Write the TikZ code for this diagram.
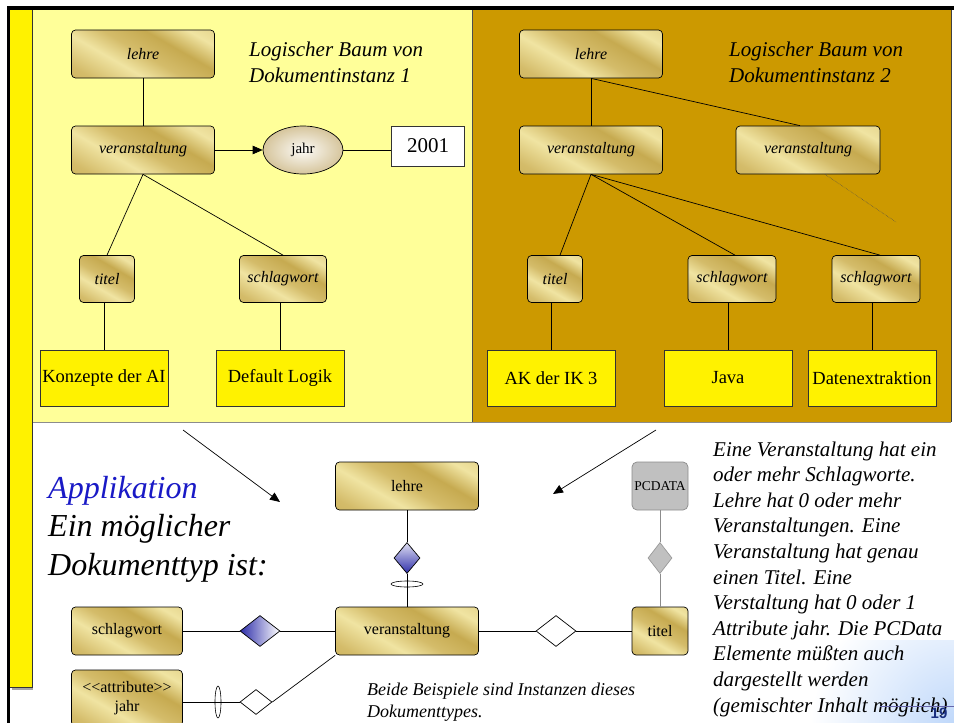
\documentclass[tikz,border=0pt]{standalone}
\usepackage{fontspec}
\setmainfont{Liberation Serif}
\newfontfamily\numfont{Liberation Sans}
\usetikzlibrary{arrows.meta,shapes.geometric}

\definecolor{paleyellow}{HTML}{FFFF99}
\definecolor{ochre}{HTML}{CC9900}
\definecolor{goldA}{HTML}{D4BC6A}
\definecolor{goldB}{HTML}{F0E4A2}
\definecolor{goldC}{HTML}{C6AA50}
\definecolor{diamblue}{HTML}{2E2EAA}
\definecolor{pcgrey}{HTML}{C0C0C0}
\definecolor{pagenum}{HTML}{1A2F80}
\definecolor{balltan}{HTML}{D6C59C}
\definecolor{sheenblue}{HTML}{BCD6FA}

\pgfdeclarehorizontalshading{goldsheen}{100bp}{color(0bp)=(goldC); color(22bp)=(goldA); color(38bp)=(goldB); color(50bp)=(goldA); color(63bp)=(goldC); color(76bp)=(goldB); color(100bp)=(goldA)}

\tikzset{
  x=1pt, y=-1pt,
  elem/.style={rectangle, rounded corners=4pt, draw=black, line width=0.7pt,
    shading=goldsheen, shading angle=60, inner sep=0pt},
  elemit/.style={elem, font=\fontsize{16}{18}\selectfont\itshape},
  elemup/.style={elem, font=\fontsize{16}{18}\selectfont},
  leaf/.style={rectangle, draw=black!80, line width=0.7pt, fill=yellow, inner sep=0pt,
    minimum width=128pt, minimum height=56pt, font=\fontsize{18.5}{20}\selectfont},
  link/.style={draw=black, line width=0.7pt},
  rhomb/.style={diamond, draw=black, line width=0.7pt, inner sep=0pt,
    minimum width=40pt, minimum height=31pt},
  ring/.style={ellipse, draw=black, line width=0.6pt, inner sep=0pt},
  prose/.style={align=left, anchor=base west, inner sep=0pt},
  headline/.style={prose, font=\fontsize{21}{26}\selectfont\itshape},
  tip/.style={-{Triangle[length=10pt,width=8.5pt]}}
}

\begin{document}
\begin{tikzpicture}
\useasboundingbox (0,0) rectangle (954,723);
\fill[white] (0,0) rectangle (954,723);

% panels
\fill[paleyellow] (32,9) rectangle (472,422);
\fill[ochre] (472,9) rectangle (951,422);
\draw[black!70, line width=0.8pt] (472,9) -- (472,422);
\draw[black!75, line width=1pt] (951,9) -- (951,422);
\draw[black!45, line width=1pt] (32,422.5) -- (951,422.5);

% corner sheen
\begin{scope}
  \clip (800,640) rectangle (954,723);
  \shade[inner color=sheenblue, outer color=white] (960,730) circle (150);
\end{scope}

% left strip and frame
\fill[black!35] (12,687) rectangle (33,690);
\fill[yellow] (10,9) rectangle (32,687);
\draw[black!80, line width=1pt] (32,9) -- (32,687) -- (10,687);
\fill[black] (7,6) rectangle (954,9.5);
\fill[black] (7,6) rectangle (9.5,723);

% ---------- tree 1 ----------
\node[headline] (h1) at (249,82) {Logischer Baum von\\Dokumentinstanz 1};
\node[elemit, minimum width=143pt, minimum height=48pt] (lA) at (143,54) {lehre};
\node[elemit, minimum width=143pt, minimum height=48pt] (vA) at (143,150) {veranstaltung};
\node[ellipse, draw=black, line width=0.7pt, inner color=white!92!balltan, outer color=balltan,
      minimum width=80pt, minimum height=48pt, inner sep=0pt,
      font=\fontsize{15}{17}\selectfont] (jA) at (303,150) {jahr};
\node[rectangle, draw=black!80, line width=0.7pt, fill=white, minimum width=73pt,
      minimum height=40pt, inner sep=0pt, font=\fontsize{21}{23}\selectfont] (yA) at (428,146) {2001};
\node[elemit, minimum width=55pt, minimum height=47pt] (tA) at (107,279) {titel};
\node[elemit, minimum width=87pt, minimum height=47pt] (sA) at (283,279) {schlagwort};
\node[leaf] (kA) at (104,378) {Konzepte der AI};
\node[leaf] (dA) at (280,378) {Default Logik};

\draw[link] (lA) -- (vA);
\draw[link, tip] (vA.east) -- (jA.west);
\draw[link] (jA.east) -- (yA.west |- jA.east);
\draw[link] (vA.south) -- (tA.north);
\draw[link] (vA.south) -- (sA.north);
\draw[link] (tA.south -| kA.north) -- (kA.north);
\draw[link] (sA.south -| dA.north) -- (dA.north);

% ---------- tree 2 ----------
\node[headline] (h2) at (729,82) {Logischer Baum von\\Dokumentinstanz 2};
\node[elemit, minimum width=143pt, minimum height=48pt] (lB) at (591,54) {lehre};
\node[elemit, minimum width=143pt, minimum height=48pt] (vB) at (591,150) {veranstaltung};
\node[elemit, minimum width=144pt, minimum height=48pt] (vC) at (808,150) {veranstaltung};
\node[elemit, minimum width=55pt, minimum height=47pt] (tB) at (555,279) {titel};
\node[elemit, minimum width=88pt, minimum height=47pt] (sB) at (732,279) {schlagwort};
\node[elemit, minimum width=88pt, minimum height=47pt] (sC) at (876,279) {schlagwort};
\node[leaf] (kB) at (551,378) {AK der IK 3};
\node[leaf] (dB) at (728,378) {Java};
\node[leaf] (eB) at (872,378) {Datenextraktion};
\coordinate (vCend) at (896,222);

\draw[link] (lB) -- (vB);
\draw[link] (lB.south) -- ([xshift=-8pt]vC.north);
\draw[link] (vB.south) -- ([xshift=5pt]tB.north);
\draw[link] (vB.south) -- ([xshift=3pt]sB.north);
\draw[link] (vB.south) -- ([xshift=4pt]sC.north);
\draw[black!70, line width=0.5pt, densely dotted] ([xshift=17pt]vC.south) -- (vCend);
\draw[link] (tB.south -| kB.north) -- (kB.north);
\draw[link] (sB.south -| dB.north) -- (dB.north);
\draw[link] (sC.south -| eB.north) -- (eB.north);

% ---------- document type ----------
\coordinate (a1s) at (183,430);
\coordinate (a1e) at (280,502);
\coordinate (a2s) at (656,430);
\coordinate (a2e) at (553,494);
\draw[link, tip] (a1s) -- (a1e);
\draw[link, tip] (a2s) -- (a2e);

\node[prose, font=\fontsize{32}{38.5}\selectfont\itshape] (ttl) at (48,575)
  {\textcolor{blue!75!black!90}{Applikation}\\Ein möglicher\\Dokumenttyp ist:};

\node[elemup, minimum width=143pt, minimum height=48pt] (lD) at (407,486) {lehre};
\node[elemup, minimum width=143pt, minimum height=48pt] (vD) at (407,631) {veranstaltung};
\node[elemup, minimum width=111pt, minimum height=48pt] (sD) at (127,631) {schlagwort};
\node[elemup, minimum width=111pt, minimum height=56pt, align=center,
      font=\fontsize{16}{19}\selectfont] (aD) at (127,698) {<{}<attribute>{}>\\jahr};
\node[elemup, minimum width=56pt, minimum height=48pt] (tD) at (660,631) {titel};
\node[rectangle, rounded corners=5pt, draw=black!45, line width=0.7pt, fill=pcgrey,
      minimum width=56pt, minimum height=48pt, inner sep=0pt,
      font=\fontsize{13.5}{15}\selectfont] (pD) at (660,486) {PCDATA};

\node[rhomb, minimum width=26pt, minimum height=31pt, top color=white!85!diamblue,
      bottom color=diamblue] (dLV) at (407,558) {};
\node[rhomb, left color=diamblue, right color=white] (dSV) at (260,631) {};
\node[rhomb, fill=white] (dVT) at (556,631) {};
\node[rhomb, draw=black!40, fill=pcgrey, minimum width=24pt, minimum height=31pt] (dPT) at (660,558) {};
\node[rhomb, fill=white, minimum width=32pt, minimum height=25pt] (dAV) at (256,702) {};

\draw[link] (lD) -- (dLV) -- (vD);
\draw[link] (sD) -- (dSV) -- (vD);
\draw[link] (vD) -- (dVT) -- (tD);
\draw[black!45, line width=0.7pt] (pD) -- (dPT) -- (tD);
\draw[link] (aD.east |- dAV.west) -- (dAV.west);
\draw[link] (dAV.east) -- (vD.south west);
\node[ring, minimum width=32pt, minimum height=6pt] (oLV) at (407,584) {};
\node[ring, minimum width=6pt, minimum height=32pt] (oAV) at (218,702) {};

\node[prose, font=\fontsize{18}{22}\selectfont\itshape] (note) at (367,717)
  {Beide Beispiele sind Instanzen dieses\\Dokumenttypes.};

\node[prose, font=\fontsize{21}{25.6}\selectfont\itshape] (expl) at (713,712)
  {Eine Veranstaltung hat ein\\oder mehr Schlagworte.\\Lehre hat 0 oder mehr\\Veranstaltungen. Eine\\Veranstaltung hat genau\\einen Titel. Eine\\Verstaltung hat 0 oder 1\\Attribute jahr. Die PCData\\Elemente müßten auch\\dargestellt werden\\(gemischter Inhalt möglich)};

% page marker
\draw[black!55!blue!60, line width=1pt] (880,706) -- (954,706);
\node[font=\numfont\bfseries\fontsize{15}{15}\selectfont, text=pagenum] (pg) at (939,713) {19};
\end{tikzpicture}
\end{document}
